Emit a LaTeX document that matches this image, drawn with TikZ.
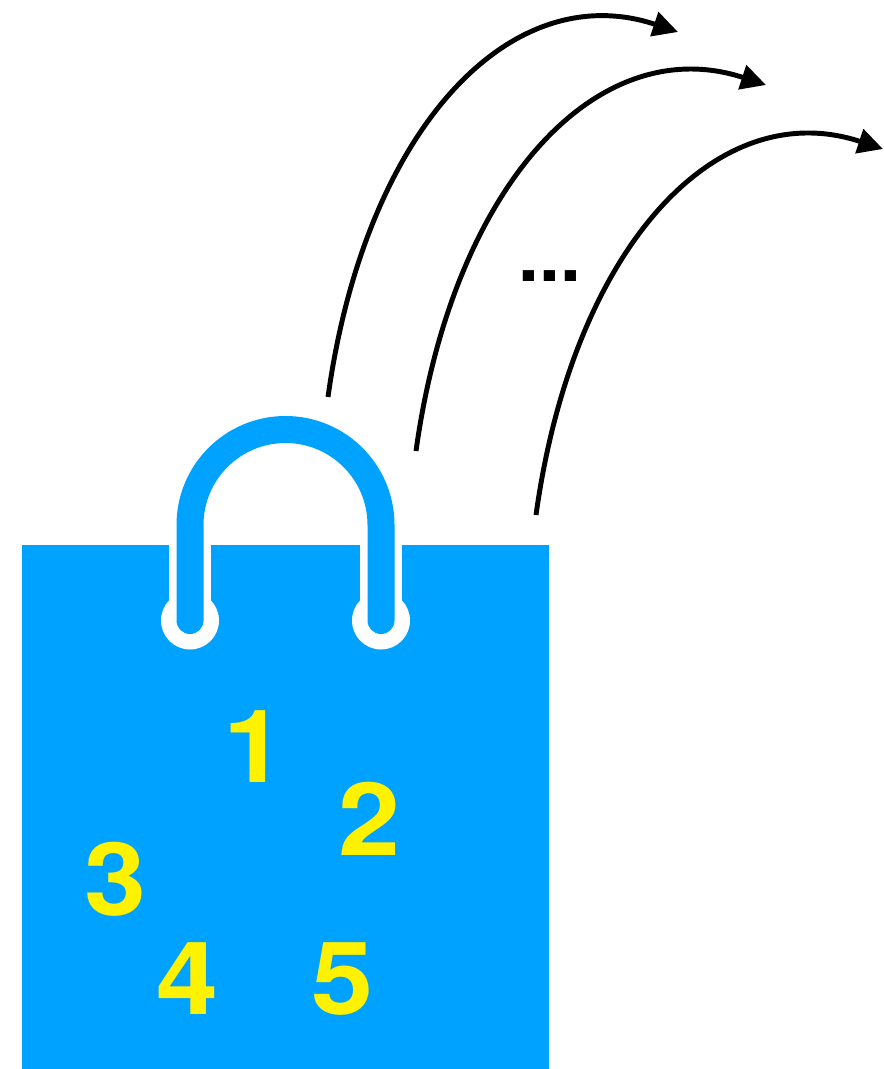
\documentclass[tikz,border=0pt]{standalone}
\usepackage{fontspec}
\setmainfont{TeX Gyre Heros}
\usetikzlibrary{arrows.meta}
\definecolor{bagblue}{HTML}{00A2FF}
\definecolor{numyellow}{HTML}{FFF200}
\tikzset{px/.style={x=0.75pt,y=-0.75pt},
 num/.style={font=\fontsize{76}{76}\selectfont\bfseries,text=numyellow,inner sep=0pt,xscale=1.1},
 flight/.style={draw=black,line width=3.7pt,-{Triangle[length=18.75pt,width=18.5pt]}}}
\begin{document}
\begin{tikzpicture}[px]
\useasboundingbox (0,0) rectangle (883,1069);
\fill[bagblue] (22,545) rectangle (549,1069);
% white halo
\draw[white,line width=31pt,line cap=butt] (190,545) -- (190,620);
\draw[white,line width=31pt,line cap=butt] (381,545) -- (381,620);
\fill[white] (190,620.5) circle (29);
\fill[white] (381,620.5) circle (29);
\draw[bagblue,line width=20.25pt,line cap=round] (190,620.5) -- (190,525) arc[start angle=180,end angle=0,x radius=95.5,y radius=-95.5] -- (381,620.5);
\node[num] (n1) at (254,747) {1};
\node[num] (n2) at (369,819) {2};
\node[num] (n3) at (115,879) {3};
\node[num] (n4) at (187,979) {4};
\node[num] (n5) at (342,979) {5};
\node[font=\fontsize{56}{56}\selectfont\bfseries,inner sep=0pt] (dots) at (550,276) {...};
\coordinate (a1) at (328,397); \coordinate (b1) at (678,32);
\coordinate (a2) at (416,451); \coordinate (b2) at (766,85);
\coordinate (a3) at (536,515); \coordinate (b3) at (883,149);
\draw[flight] (a1) .. controls (365,130) and (510,-24) .. (b1);
\draw[flight] (a2) .. controls (453,184) and (598,30) .. (b2);
\draw[flight] (a3) .. controls (573,248) and (716,94) .. (b3);
\end{tikzpicture}
\end{document}
